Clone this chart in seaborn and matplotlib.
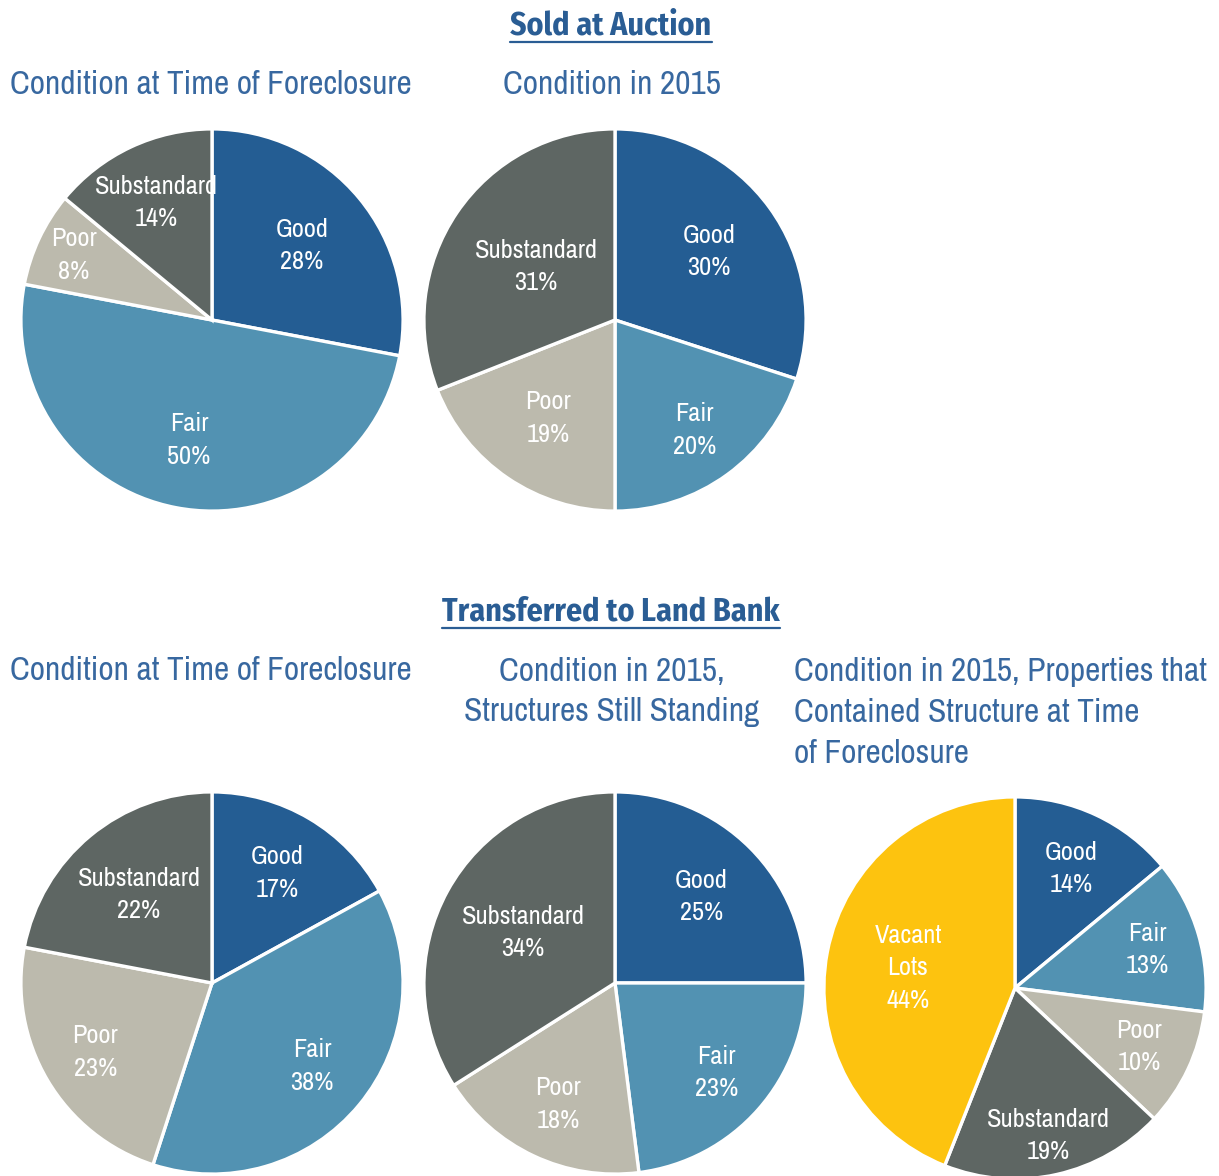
import numpy as np
import matplotlib
matplotlib.use("Agg")
import matplotlib.pyplot as plt
import seaborn as sns
from matplotlib.lines import Line2D

sns.set_theme(style="white")
plt.rcParams['font.family'] = ['Archivo Narrow', 'DejaVu Sans']

# data
cats4 = ["Good", "Fair", "Poor", "Substandard"]
cats5 = ["Good", "Fair", "Poor", "Substandard", "Vacant\nLots"]
auction_foreclosure = [28, 50, 8, 14]
auction_2015 = [30, 20, 19, 31]
landbank_foreclosure = [17, 38, 23, 22]
landbank_standing = [25, 23, 18, 34]
landbank_all = [14, 13, 10, 19, 44]

colors = {"Good": "#245D93", "Fair": "#5292B2", "Poor": "#BCBAAD",
          "Substandard": "#5E6663", "Vacant\nLots": "#FDC30F"}
title_col = "#2A5D94"
sub_col = "#3868A0"

W, H = 1219, 1176
fig = plt.figure(figsize=(W / 100, H / 100), dpi=100)


def draw_pie(cx, cy, r, vals, cats, dists):
    ax = fig.add_axes([(cx - r) / W, 1 - (cy + r) / H, 2 * r / W, 2 * r / H])
    wedges, _ = ax.pie(vals, colors=[colors[c] for c in cats], startangle=90,
                       counterclock=False,
                       wedgeprops=dict(edgecolor="white", linewidth=2.4))
    for w, c, v, d in zip(wedges, cats, vals, dists):
        ang = np.deg2rad((w.theta1 + w.theta2) / 2)
        ax.text(d * np.cos(ang), d * np.sin(ang), f"{c}\n{v}%",
                ha="center", va="center", color="white", fontsize=19,
                linespacing=1.5)
    ax.set_xlim(-1.01, 1.01)
    ax.set_ylim(-1.01, 1.01)
    ax.set_axis_off()
    return ax


draw_pie(212, 320, 193, auction_foreclosure, cats4, [0.61, 0.64, 0.80, 0.68])
draw_pie(615, 320, 193, auction_2015, cats4, [0.61, 0.71, 0.62, 0.50])
draw_pie(212, 983, 193, landbank_foreclosure, cats4, [0.67, 0.68, 0.71, 0.60])
draw_pie(615, 983, 193, landbank_standing, cats4, [0.64, 0.71, 0.70, 0.55])
draw_pie(1015, 988, 193, landbank_all, cats5, [0.69, 0.72, 0.72, 0.79, 0.57])


def ftext(x, y, s, **kw):
    return fig.text(x / W, 1 - y / H, s, **kw)


# section headings (underlined)
for y, s in [(26, "Sold at Auction"), (612, "Transferred to Land Bank")]:
    t = ftext(611, y, s, ha="center", va="center", fontsize=23,
              fontweight="bold", color=title_col,
              family=['Fira Sans Condensed', 'DejaVu Sans'])
    fig.canvas.draw()
    bb = t.get_window_extent()
    fig.add_artist(Line2D([bb.x0 / W, bb.x1 / W],
                          [1 - (y + 16) / H, 1 - (y + 16) / H],
                          color=title_col, linewidth=1.6))

ftext(211, 85, "Condition at Time of Foreclosure", ha="center", va="center",
      fontsize=24, color=sub_col)
ftext(612, 85, "Condition in 2015", ha="center", va="center",
      fontsize=24, color=sub_col)
ftext(211, 671, "Condition at Time of Foreclosure", ha="center", va="center",
      fontsize=24, color=sub_col)
ftext(612, 692, "Condition in 2015,\nStructures Still Standing", ha="center",
      va="center", fontsize=24, color=sub_col, linespacing=1.45)
ftext(794, 713, "Condition in 2015, Properties that\nContained Structure at Time\nof Foreclosure",
      ha="left", va="center", fontsize=24, color=sub_col, linespacing=1.45)

fig.savefig("out.png", dpi=100)
